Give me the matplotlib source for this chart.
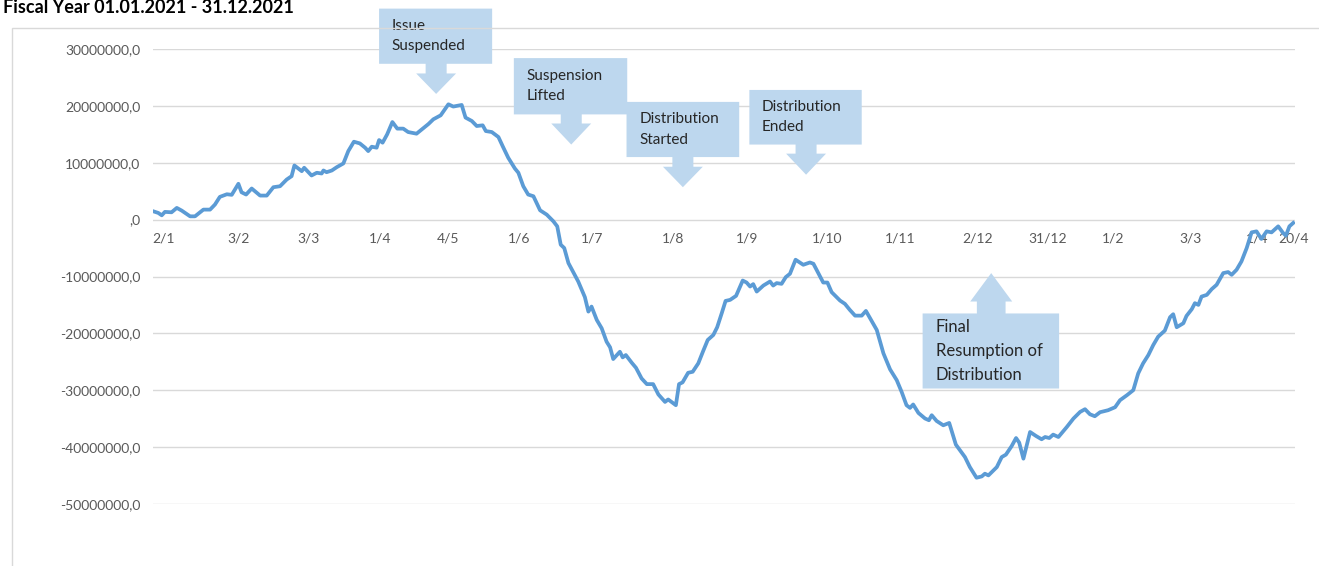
import matplotlib.pyplot as plt
from matplotlib.patches import Polygon, Rectangle
from matplotlib.ticker import FuncFormatter

plt.rcParams['font.family'] = ['Lato', 'DejaVu Sans']

# trading day index and balance (millions)
day_idx = [0.1, 1.5, 2.5, 3.4, 5.3, 6.8, 8.2, 10.6, 12.0, 14.4, 16.3, 17.7, 19.1, 21.1, 22.5,
           24.4, 25.3, 26.6, 28.2, 30.6, 32.5, 34.4, 36.3, 38.2, 39.6, 40.4, 42.5, 43.2, 45.3,
           46.8, 48.2, 48.7, 49.6, 51.1, 52.5, 54.4, 55.8, 57.4, 59.1, 60.6, 61.5, 62.5, 63.9,
           64.6, 65.6, 66.9, 68.4, 69.8, 71.5, 72.9,
           75.3, 78.7, 80.1, 82.2, 84.4, 85.8, 88.2, 89.3, 91.1, 92.5, 94.2, 95.1, 96.8, 98.7,
           99.9, 101.5, 103.4, 104.4, 105.8, 107.2, 108.7, 110.6, 112.5, 114.4, 115.5, 116.5,
           117.5, 118.7, 121.5, 123.4, 124.4, 125.3, 126.8, 128.2,
           129.6, 130.6, 131.5, 133.4, 134.2, 135.1, 136.8, 138.0, 139.6, 141.1, 142.9, 144.4,
           146.3, 147.2, 149.4, 150.3, 151.3, 152.9, 154.2, 155.8, 157.2, 158.5, 160.1, 161.2,
           162.5, 163.6, 164.9, 166.6, 168.5, 169.6, 170.6, 171.5, 172.5, 174.4, 176.3, 177.2,
           178.2, 179.6, 180.8, 182.0, 183.6, 185.8, 187.7, 188.7, 190.6, 191.5, 192.7, 193.9,
           196.3, 197.7, 199.1,
           200.6, 202.5, 203.7, 204.9, 206.8, 208.7, 210.6, 212.5, 213.9, 215.3, 216.3, 217.2,
           218.7, 220.6, 221.7, 222.5, 223.9, 225.8, 227.5, 229.4, 232.0, 233.4, 235.3, 236.8,
           237.7, 238.7, 241.1, 242.5, 243.7, 245.3, 246.6, 247.5, 248.7, 250.6, 252.3, 253.9,
           254.9, 256.1, 257.2, 258.7, 261.1, 263.0, 264.9, 266.3, 267.7, 269.1, 270.6, 272.9,
           274.9, 276.3, 278.3,
           280.1, 281.5, 282.9, 284.4, 285.8, 287.2, 289.1, 290.6, 291.5, 292.5, 294.4, 295.3,
           296.8, 297.7, 298.7, 299.6, 301.1, 302.5, 303.9, 305.8, 307.2, 308.2, 309.6, 311.0,
           312.5, 313.9, 315.3, 316.7, 318.2, 319.6, 321.5, 322.9, 323.7, 324.7, 325.8]

balance_m = [1.46, 1.18, 0.76, 1.36, 1.29, 2.06, 1.59, 0.58, 0.58, 1.76, 1.76, 2.65, 4.00, 4.46, 4.36,
             6.30, 4.81, 4.41, 5.47, 4.23, 4.23, 5.70, 5.87, 7.05, 7.64, 9.52, 8.52, 9.12, 7.76,
             8.24, 8.11, 8.64, 8.34, 8.64, 9.22, 9.88, 12.05, 13.70, 13.40, 12.65, 12.05, 12.82, 12.65,
             13.99, 13.53, 14.99, 17.16, 16.00, 16.00, 15.40,
             15.11, 16.81, 17.64, 18.34, 20.28, 19.88, 20.16, 17.94, 17.34, 16.46, 16.58, 15.57, 15.40, 14.52,
             12.93, 10.88, 8.99, 8.24, 5.87, 4.41, 4.11, 1.64, 0.88, -0.30, -1.18, -4.41,
             -4.99, -7.64, -10.88, -13.63, -16.17, -15.29, -17.64, -19.10,
             -21.46, -22.45, -24.51, -23.23, -24.22, -23.81, -25.17, -26.05, -27.92, -28.92, -28.92, -30.74,
             -32.05, -31.62, -32.63, -28.92, -28.62, -26.93, -26.75, -25.27, -23.10, -21.16, -20.28, -18.92,
             -16.46, -14.29, -14.11, -13.40, -10.71, -11.06, -11.76, -11.34, -12.65, -11.59, -10.88, -11.59,
             -11.16, -11.29, -10.11, -9.52, -7.05, -7.94, -7.53, -7.76, -10.00, -11.06, -11.06, -12.75,
             -14.23, -14.81, -15.87,
             -16.88, -16.88, -16.05, -17.34, -19.40, -23.51, -26.33, -28.22, -30.28, -32.63, -33.10, -32.50,
             -33.99, -34.97, -35.27, -34.39, -35.40, -36.16, -35.75, -39.56, -41.75, -43.51, -45.38, -45.15,
             -44.67, -44.97, -43.51, -41.75, -41.32, -39.86, -38.40, -39.21, -42.03, -37.34, -38.04, -38.62,
             -38.22, -38.40, -37.80, -38.22, -36.46, -34.97, -33.81, -33.33, -34.22, -34.57, -33.86, -33.51,
             -32.98, -31.75, -30.86,
             -29.98, -27.04, -25.27, -23.81, -22.05, -20.58, -19.52, -17.16, -16.63, -18.92, -18.22, -16.93,
             -15.75, -14.69, -14.99, -13.53, -13.23, -12.22, -11.46, -9.40, -9.22, -9.70, -8.82, -7.35,
             -4.99, -2.24, -2.06, -3.40, -2.06, -2.24, -1.18, -2.35, -2.82, -1.18, -0.58]

tick_pos = [3.1, 24.4, 44.4, 64.9, 84.4, 104.6, 125.5, 148.5, 169.6, 192.5, 213.4, 235.5,
            255.6, 274.4, 296.5, 315.4, 325.8]
tick_lbl = ['2/1', '3/2', '3/3', '1/4', '4/5', '1/6', '1/7', '1/8', '1/9', '1/10', '1/11', '2/12',
            '31/12', '1/2', '3/3', '1/4', '20/4']

# callouts: text, box x0, x1, y top, y bottom (millions), arrow x, neck y, tip y
events = ['Issue\nSuspended', 'Suspension\nLifted', 'Distribution\nStarted', 'Distribution\nEnded']
ev_box = [(64.6, 96.9, 37.1, 27.4), (103.1, 135.5, 28.4, 18.5),
          (135.3, 167.5, 20.7, 11.0), (170.4, 202.5, 22.8, 13.2)]
ev_arrow = [(80.9, 25.7, 22.1), (119.5, 16.9, 13.2), (151.4, 9.3, 5.7), (186.6, 11.6, 7.9)]

box_col = '#BDD7EE'
txt_col = '#262626'

fig = plt.figure(figsize=(13.19, 5.66), dpi=100)
fig.patches.append(Rectangle((12/1319, -0.1), 1.2, 1.1 - 28/566, transform=fig.transFigure,
                             fill=False, edgecolor='#D9D9D9', lw=1))
fig.text(0.002, 1 - 13/566, 'Fiscal Year 01.01.2021 - 31.12.2021', fontsize=13, fontweight='bold',
         va='baseline', ha='left', color='#000000')

ax = fig.add_axes([153/1319, 1 - 504/566, 1142/1319, 455/566])
ax.plot(day_idx, [v * 1e6 for v in balance_m], color='#5B9BD5', lw=2.7, solid_joinstyle='round', zorder=3)

ax.set_xlim(0, 326.3)
ax.set_ylim(-50e6, 30e6)
ax.set_yticks([i * 1e7 for i in range(-5, 4)])
ax.yaxis.set_major_formatter(FuncFormatter(lambda v, p: ',0' if v == 0 else f'{int(v)},0'))
ax.set_xticks(tick_pos)
ax.set_xticklabels(tick_lbl)
ax.get_xticklabels()[-1].set_ha('left')
ax.spines['bottom'].set_position(('data', 0))
for s in ax.spines.values():
    s.set_visible(False)
ax.tick_params(axis='both', length=0, labelsize=10, labelcolor='#595959')
ax.tick_params(axis='y', pad=9)
ax.tick_params(axis='x', pad=9)
ax.yaxis.grid(True, color='#D9D9D9', lw=1)
ax.set_axisbelow(True)


def down_callout(x0, x1, yt, yb, cx, yn, ytip, sw=3.0, hw=5.7):
    pts = [(x0, yt), (x1, yt), (x1, yb), (cx + sw, yb), (cx + sw, yn), (cx + hw, yn), (cx, ytip),
           (cx - hw, yn), (cx - sw, yn), (cx - sw, yb), (x0, yb)]
    return Polygon([(a, b * 1e6) for a, b in pts], closed=True, facecolor=box_col,
                   edgecolor='none', clip_on=False, zorder=4)


for txt, (x0, x1, yt, yb), (cx, yn, ytip) in zip(events, ev_box, ev_arrow):
    ax.add_patch(down_callout(x0, x1, yt, yb, cx, yn, ytip))
    ax.text(x0 + 3.6, (yt + yb) / 2 * 1e6, txt, fontsize=11, color=txt_col, va='center',
            ha='left', linespacing=1.55, zorder=5)

# up arrow callout for the final resumption
fx0, fx1, fyt, fyb = 219.9, 258.9, -16.5, -29.7
fcx, fyn, ftip = 239.5, -14.4, -9.4
up = [(fx0, fyb), (fx1, fyb), (fx1, fyt), (fcx + 4.1, fyt), (fcx + 4.1, fyn), (fcx + 6.0, fyn),
      (fcx, ftip), (fcx - 6.0, fyn), (fcx - 4.1, fyn), (fcx - 4.1, fyt), (fx0, fyt)]
ax.add_patch(Polygon([(a, b * 1e6) for a, b in up], closed=True, facecolor=box_col,
                     edgecolor='none', zorder=4))
ax.text(fx0 + 3.8, (fyt + fyb) / 2 * 1e6, 'Final\nResumption of\nDistribution', fontsize=12,
        color=txt_col, va='center', ha='left', linespacing=1.6, zorder=5)

fig.savefig('out.png', dpi=100)
